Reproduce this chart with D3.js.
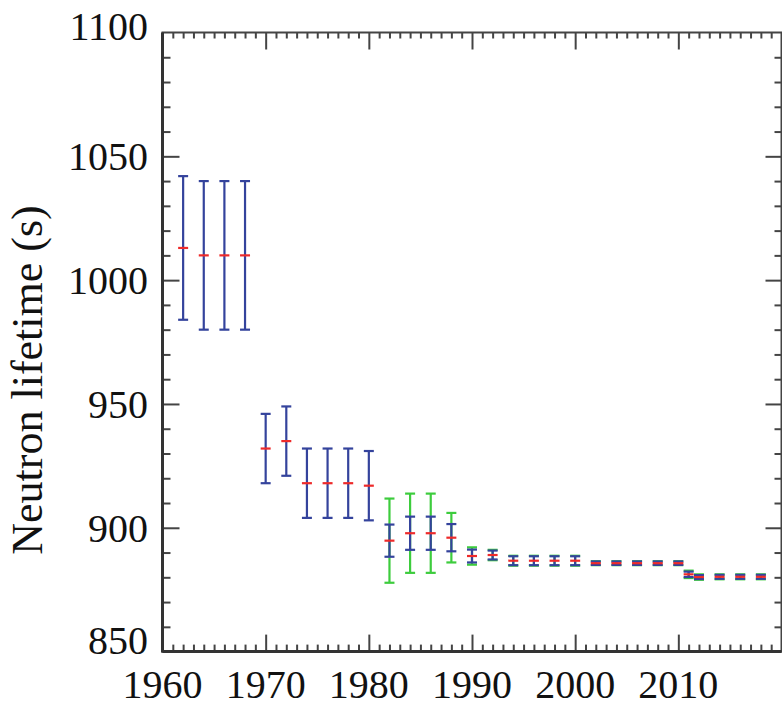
<!DOCTYPE html>
<html>
<head>
<meta charset="utf-8">
<script src="https://cdn.jsdelivr.net/npm/d3@7"></script>
<style>
  html, body { margin: 0; padding: 0; background: #fff; }
  svg { display: block; }
</style>
</head>
<body>
<svg id="chart" width="782" height="706"></svg>
<script>
// ---- data ----
const years      = [1962, 1964, 1966, 1968, 1970, 1972, 1974, 1976, 1978, 1980,
                    1982, 1984, 1986, 1988, 1990, 1992, 1994, 1996, 1998, 2000,
                    2002, 2004, 2006, 2008, 2010, 2011, 2012, 2014, 2016, 2018];
const lifetimes  = [1013, 1010, 1010, 1010, 932, 935, 918, 918, 918, 917,
                    894.8, 897.8, 897.8, 896, 888.6, 889, 886.7, 886.7, 886.7, 886.7,
                    885.7, 885.7, 885.7, 885.7, 885.7, 881.2, 880.1, 880.2, 880.2, 880.2];
const errBlue    = [29, 30, 30, 30, 14, 14, 14, 14, 14, 14,
                    6.5, 6.7, 6.7, 5.5, 2.6, 1.8, 1.8, 1.8, 1.8, 1.8,
                    0.7, 0.7, 0.7, 0.7, 0.7, 1.1, 0.8, 0.8, 0.8, 0.8];
const errGreen   = [null, null, null, null, null, null, null, null, null, null,
                    17, 16, 16, 10, 3.5, 2.1, 2.0, 2.0, 2.0, 2.0,
                    0.8, 0.8, 0.8, 0.8, 0.8, 1.5, 1.1, 1.0, 1.0, 1.0];
const xTickLabels = [1960, 1970, 1980, 1990, 2000, 2010];
const yTickLabels = [850, 900, 950, 1000, 1050, 1100];
const yAxisTitle = "Neutron lifetime (s)";

const points = years.map((yr, i) => ({
  year: yr, v: lifetimes[i], eb: errBlue[i], eg: errGreen[i]
}));

// ---- layout ----
const svg = d3.select("#chart");
const L = 162.5, R = 781.5, T = 32.5, B = 651.6;
const x = d3.scaleLinear().domain([1960, 2020]).range([L, R]);
const y = d3.scaleLinear().domain([850, 1100]).range([B, T]);

const axisColor = "#444";
const font = "'Liberation Serif', 'Times New Roman', serif";

// ---- ticks via d3 axes ----
const minorX = d3.range(1961, 2020).filter(d => d % 10 !== 0);
const minorY = d3.range(860, 1100, 10).filter(d => d % 50 !== 0);

function styleAxis(g) {
  g.select(".domain").remove();
  g.selectAll("line").attr("stroke", axisColor).attr("stroke-width", 2);
  g.selectAll("text").remove();
}
// bottom (ticks point inward = up)
svg.append("g").attr("transform", `translate(0,${B})`)
  .call(d3.axisBottom(x).tickValues(xTickLabels.slice(1)).tickSize(-17)).call(styleAxis);
svg.append("g").attr("transform", `translate(0,${B})`)
  .call(d3.axisBottom(x).tickValues(minorX).tickSize(-7)).call(styleAxis);
// top
svg.append("g").attr("transform", `translate(0,${T})`)
  .call(d3.axisTop(x).tickValues(xTickLabels.slice(1)).tickSize(-17)).call(styleAxis);
svg.append("g").attr("transform", `translate(0,${T})`)
  .call(d3.axisTop(x).tickValues(minorX).tickSize(-6)).call(styleAxis);
// left
svg.append("g").attr("transform", `translate(${L},0)`)
  .call(d3.axisLeft(y).tickValues(yTickLabels.slice(1, -1)).tickSize(-17)).call(styleAxis);
svg.append("g").attr("transform", `translate(${L},0)`)
  .call(d3.axisLeft(y).tickValues(minorY).tickSize(-8)).call(styleAxis);
// right
svg.append("g").attr("transform", `translate(${R},0)`)
  .call(d3.axisRight(y).tickValues(yTickLabels.slice(1, -1)).tickSize(-16)).call(styleAxis);
svg.append("g").attr("transform", `translate(${R},0)`)
  .call(d3.axisRight(y).tickValues(minorY).tickSize(-7)).call(styleAxis);

// frame
svg.append("rect")
  .attr("x", L).attr("y", T).attr("width", R - L).attr("height", B - T)
  .attr("fill", "none").attr("stroke", axisColor).attr("stroke-width", 2);
svg.append("line").attr("x1", L).attr("x2", L).attr("y1", T).attr("y2", B + 1)
  .attr("stroke", "#333").attr("stroke-width", 3);
svg.append("line").attr("x1", L).attr("x2", R).attr("y1", B).attr("y2", B)
  .attr("stroke", "#333").attr("stroke-width", 3);

// ---- tick labels ----
svg.append("g").selectAll("text").data(xTickLabels).join("text")
  .attr("x", d => x(d)).attr("y", 698)
  .attr("text-anchor", "middle")
  .attr("font-family", font).attr("font-size", 40).attr("fill", "#111")
  .text(d => d);

svg.append("g").selectAll("text").data(yTickLabels).join("text")
  .attr("x", 148)
  .attr("y", d => {
    let yy = y(d);
    if (d === 1100) yy = 26;
    if (d === 850) yy = 640;
    return yy;
  })
  .attr("dy", "0.35em")
  .attr("text-anchor", "end")
  .attr("font-family", font).attr("font-size", 40).attr("fill", "#111")
  .text(d => d);

// y title
svg.append("text")
  .attr("transform", `translate(42,380) rotate(-90)`)
  .attr("text-anchor", "middle")
  .attr("font-family", font).attr("font-size", 44).attr("fill", "#111")
  .text(yAxisTitle);

// ---- error bars ----
const blue = "#34439c", red = "#ee2a2a", green = "#3dcc3d";
const capW = 5;

function drawBars(errKey, color) {
  const d = points.filter(p => p[errKey] != null);
  const g = svg.append("g").attr("stroke", color).attr("stroke-width", 2.2).attr("fill", "none");
  g.selectAll("line.v").data(d).join("line").attr("class", "v")
    .attr("x1", p => x(p.year)).attr("x2", p => x(p.year))
    .attr("y1", p => y(p.v + p[errKey])).attr("y2", p => y(p.v - p[errKey]));
  g.selectAll("line.t").data(d).join("line").attr("class", "t")
    .attr("x1", p => x(p.year) - capW).attr("x2", p => x(p.year) + capW)
    .attr("y1", p => y(p.v + p[errKey])).attr("y2", p => y(p.v + p[errKey]));
  g.selectAll("line.b").data(d).join("line").attr("class", "b")
    .attr("x1", p => x(p.year) - capW).attr("x2", p => x(p.year) + capW)
    .attr("y1", p => y(p.v - p[errKey])).attr("y2", p => y(p.v - p[errKey]));
}
drawBars("eg", green);
drawBars("eb", blue);

svg.append("g").attr("stroke", red).attr("stroke-width", 2.2)
  .selectAll("line").data(points).join("line")
  .attr("x1", p => x(p.year) - capW).attr("x2", p => x(p.year) + capW)
  .attr("y1", p => y(p.v)).attr("y2", p => y(p.v));
</script>
</body>
</html>
